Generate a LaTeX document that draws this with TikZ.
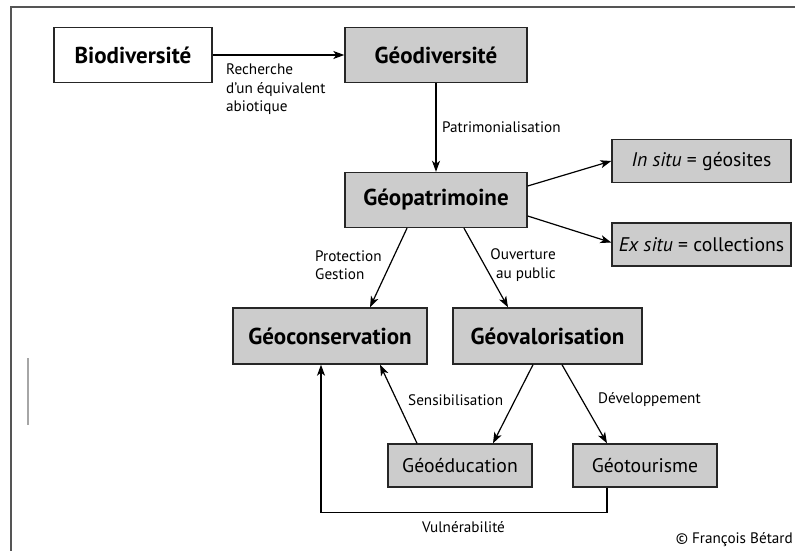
\documentclass[tikz,border=0pt]{standalone}
\usepackage{fontspec}
\setmainfont{PT Sans}
\usetikzlibrary{arrows.meta,calc}
\definecolor{boxgray}{HTML}{CCCCCC}
\definecolor{framegray}{HTML}{555555}
\tikzset{
  box/.style={draw=black!85, line width=1.4pt, fill=boxgray, inner sep=0pt, align=center},
  bigbox/.style={box, font=\fontsize{23}{26}\selectfont\bfseries, minimum height=55pt},
  smallbox/.style={box, font=\fontsize{19.7}{22}\selectfont, minimum height=43pt},
  arr/.style={line width=1.2pt, -{Stealth[length=11pt,width=8pt,inset=3pt]}},
  lbl/.style={font=\fontsize{15.2}{18.5}\selectfont, inner sep=0pt},
}
\begin{document}
\begin{tikzpicture}[x=1pt,y=-1pt]
\useasboundingbox (0,0) rectangle (795,551);
% frame
\draw[framegray, line width=2pt] (11,551) -- (11,7) -- (795,7);
\draw[black!35, line width=1.5pt] (28,358) -- (28,425);
% nodes
\node[bigbox, fill=white, minimum width=158pt] (bio) at (133,55) {Biodiversité};
\node[bigbox, minimum width=182pt] (geod) at (436,55) {Géodiversité};
\node[bigbox, minimum width=182pt] (geop) at (436,200) {Géopatrimoine};
\node[smallbox, minimum width=179pt] (insitu) at (701.5,161) {\textit{In situ} = géosites};
\node[smallbox, minimum width=179pt] (exsitu) at (701.5,244.5) {\textit{Ex situ} = collections};
\node[bigbox, minimum width=194pt, minimum height=56pt] (gcons) at (330,336) {Géoconservation};
\node[bigbox, minimum width=189pt, minimum height=56pt] (gval) at (547.5,336) {Géovalorisation};
\node[smallbox, minimum width=144pt] (gedu) at (460,465.5) {Géoéducation};
\node[smallbox, minimum width=144pt] (gtour) at (645,465.5) {Géotourisme};
% connectors
\draw[arr] (bio) -- (geod);
\draw[arr] (geod) -- (geop);
\draw[arr] ($(geop.east)+(0,-14)$) -- (insitu.west);
\draw[arr] ($(geop.east)+(0,16)$) -- ($(exsitu.west)+(0,-2)$);
\draw[arr] ($(geop.south)+(-29,0)$) -- ($(gcons.north)+(40,0)$);
\draw[arr] ($(geop.south)+(28,0)$) -- ($(gval.north)+(-39.5,0)$);
\draw[arr] ($(gval.south)+(-14.5,0)$) -- ($(gedu.north)+(33,0)$);
\draw[arr] ($(gval.south)+(14.5,0)$) -- ($(gtour.north)+(-38,0)$);
\draw[arr] ($(gedu.north)+(-43,0)$) -- ($(gcons.south)+(50,0)$);
\coordinate (v1) at ($(gtour.south)+(-38,25)$);
\coordinate (v2) at ($(gcons.south)+(-9,0)$);
\draw[arr] ($(gtour.south)+(-38,0)$) -- (v1) -- (v2 |- v1) -- (v2);
% labels
\node[lbl, anchor=north west, align=left] (l1) at (226,64) {Recherche\\d'un équivalent\\abiotique};
\node[lbl, anchor=west] (l2) at (442,127) {Patrimonialisation};
\node[lbl, anchor=west, align=left] (l3) at (315,265) {Protection\\Gestion};
\node[lbl, anchor=east, align=right] (l4) at (556,265) {Ouverture\\au public};
\node[lbl, anchor=west] (l5) at (408,400) {Sensibilisation};
\node[lbl, anchor=west] (l6) at (598,400) {Développement};
\node[lbl, anchor=west] (l7) at (422,527) {Vulnérabilité};
\node[lbl, anchor=east] (l8) at (793,540) {© François Bétard};
\end{tikzpicture}
\end{document}
